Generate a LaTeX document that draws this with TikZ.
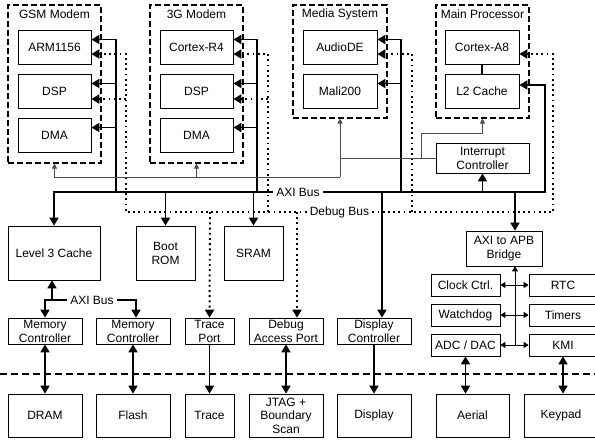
\documentclass[tikz,border=0pt]{standalone}
\usepackage{fontspec}
\setmainfont{Liberation Sans}
\usetikzlibrary{arrows.meta}

\begin{document}
\begin{tikzpicture}[x=1pt, y=-1pt, font=\fontsize{12}{14}\selectfont,
	blk/.style={draw, line width=0.7pt, inner sep=0pt, align=center},
	grp/.style={draw, line width=1.1pt, dash pattern=on 6pt off 3pt, inner sep=0pt},
	lbl/.style={inner sep=3pt},
	bus/.style={line width=1.7pt, >={Triangle[length=8pt,width=9pt]}},
	dbg/.style={line width=1.9pt, dash pattern=on 1.9pt off 3.3pt, >={Triangle[length=8pt,width=9pt]}},
	irq/.style={line width=0.8pt, black!70, >={Triangle[length=5pt,width=5pt]}},
	apb/.style={line width=0.8pt, >={Triangle[length=5pt,width=6pt]}},
	sep/.style={line width=1.2pt, dash pattern=on 7pt off 4pt}]
		\useasboundingbox (0,0) rectangle (595,440);

		% subsystems
		\node[grp, minimum width=93pt, minimum height=158pt] (gsm) at (54.5,84) {};
		\node (gsmt) at (54.5,14) {GSM Modem};
		\node[grp, minimum width=93pt, minimum height=158pt] (g3) at (196.5,84) {};
		\node (g3t) at (196.5,14) {3G Modem};
		\node[grp, minimum width=94pt, minimum height=113pt] (media) at (340,61.5) {};
		\node (mediat) at (340,14) {Media System};
		\node[grp, minimum width=93pt, minimum height=113pt] (mainp) at (482.5,61.5) {};
		\node (mainpt) at (482.5,14) {Main Processor};

		\node[blk, minimum width=73pt, minimum height=34pt] (arm) at (54.5,47) {ARM1156};
		\node[blk, minimum width=73pt, minimum height=34pt] (dspa) at (54.5,91) {DSP};
		\node[blk, minimum width=73pt, minimum height=34pt] (dmaa) at (54.5,135) {DMA};
		\node[blk, minimum width=73pt, minimum height=34pt] (cr4) at (196.5,47) {Cortex-R4};
		\node[blk, minimum width=73pt, minimum height=34pt] (dspb) at (196.5,91) {DSP};
		\node[blk, minimum width=73pt, minimum height=34pt] (dmab) at (196.5,135) {DMA};
		\node[blk, minimum width=74pt, minimum height=34pt] (adde) at (340,47) {AudioDE};
		\node[blk, minimum width=74pt, minimum height=34pt] (mali) at (340,91) {Mali200};
		\node[blk, minimum width=74pt, minimum height=34pt] (cxa) at (482,47) {Cortex-A8};
		\node[blk, minimum width=74pt, minimum height=34pt] (l2c) at (482,91) {L2 Cache};
		\draw[line width=1.2pt] (cxa) -- (l2c);

		\node[blk, minimum width=93pt, minimum height=30pt] (intc) at (482.5,158) {Interrupt\\Controller};

		% on the AXI bus
		\node[blk, minimum width=92pt, minimum height=54pt] (l3) at (54,253) {Level 3 Cache};
		\node[blk, minimum width=59pt, minimum height=54pt] (brom) at (165.5,253) {Boot\\ROM};
		\node[blk, minimum width=59pt, minimum height=54pt] (sram) at (253.5,253) {SRAM};
		\node[blk, minimum width=76pt, minimum height=35pt] (bridge) at (504,248.5) {AXI to APB\\Bridge};

		\node[blk, minimum width=69pt, minimum height=22pt] (clk) at (465.5,285) {Clock Ctrl.};
		\node[blk, minimum width=69pt, minimum height=22pt] (wdog) at (465.5,315) {Watchdog};
		\node[blk, minimum width=69pt, minimum height=22pt] (adc) at (465.5,345) {ADC / DAC};
		\node[blk, minimum width=68pt, minimum height=22pt] (rtc) at (563,285) {RTC};
		\node[blk, minimum width=68pt, minimum height=22pt] (tmr) at (563,315) {Timers};
		\node[blk, minimum width=68pt, minimum height=22pt] (kmi) at (563,345) {KMI};

		\node[blk, minimum width=74pt, minimum height=26pt] (mc1) at (45,331) {Memory\\Controller};
		\node[blk, minimum width=74pt, minimum height=26pt] (mc2) at (133,331) {Memory\\Controller};
		\node[blk, minimum width=49pt, minimum height=26pt] (tport) at (209.5,331) {Trace\\Port};
		\node[blk, minimum width=74pt, minimum height=26pt] (dap) at (286,331) {Debug\\Access Port};
		\node[blk, minimum width=74pt, minimum height=26pt] (dispc) at (374,331) {Display\\Controller};

		% off chip
		\node[blk, minimum width=74pt, minimum height=43pt] (dram) at (45,415.5) {DRAM};
		\node[blk, minimum width=74pt, minimum height=43pt] (flash) at (133,415.5) {Flash};
		\node[blk, minimum width=49pt, minimum height=43pt] (trace) at (209.5,415.5) {Trace};
		\node[blk, minimum width=74pt, minimum height=43pt, font=\fontsize{12}{13.5}\selectfont] (jtag) at (286,415.5) {JTAG +\\Boundary\\Scan};
		\node[blk, minimum width=74pt, minimum height=43pt] (disp) at (374,415.5) {Display};
		\node[blk, minimum width=73pt, minimum height=43pt] (aerial) at (472.5,415.5) {Aerial};
		\node[blk, minimum width=74pt, minimum height=43pt] (keypad) at (561,415.5) {Keypad};

		\node[lbl] (axilbl) at (298,192) {AXI Bus};
		\node[lbl] (dbglbl) at (339.5,212) {Debug Bus};
		\node[lbl] (axib) at (92,300) {AXI Bus};

		% AXI bus
		\draw[bus,->] (axilbl.west) -| (l3.north);
		\draw[bus,->] (axilbl.east) -| (545,85) -- ([yshift=6pt]l2c.east);
		\foreach \b in {arm,dspa,dmaa}
			\draw[bus,->] (116,192) |- ([yshift=7.5pt]\b.east);
		\foreach \b in {cr4,dspb,dmab}
			\draw[bus,->] (257,192) |- ([yshift=7.5pt]\b.east);
		\foreach \b in {adde,mali}
			\draw[bus,->] (401,192) |- ([yshift=7.5pt]\b.east);
		\draw[bus,->] (165.5,192) -- (brom.north);
		\draw[bus,->] (253.5,192) -- (sram.north);
		\draw[bus,->] (382,192) -- ([xshift=8pt]dispc.north);
		\draw[bus,->] (482.5,192) -- (intc.south);
		\draw[bus,->] (515,192) -- ([xshift=11pt]bridge.north);

		% debug bus
		\draw[dbg,->] (dbglbl.west) -- (126,212) |- ([yshift=-7pt]arm.east);
		\draw[dbg,->] (126,99) -- ([yshift=-8pt]dspa.east);
		\draw[dbg,->] (dbglbl.east) -| (553,54) -- ([yshift=-7pt]cxa.east);
		\draw[dbg,->] (268,212) |- ([yshift=-7pt]cr4.east);
		\draw[dbg,->] (268,99) -- ([yshift=-8pt]dspb.east);
		\draw[dbg,->] (412,212) |- ([yshift=-7pt]adde.east);
		\draw[dbg,->] (210,212) -- (tport.north);
		\draw[dbg,->] (297,212) -- ([xshift=11pt]dap.north);

		% interrupts
		\draw[irq] (intc.west) -- (340,158);
		\draw[irq,->] (340,177) -- (media.south);
		\draw[irq,->] (340,177) -| (gsm.south);
		\draw[irq,->] ([yshift=-14pt]g3.south) -- (g3.south);
		\draw[irq,->] (421,158) |- (482.5,133) -- (mainp.south);

		% APB
		\draw[apb,->] (515,345) -- ([xshift=11pt]bridge.south);
		\foreach \l/\r in {clk/rtc,wdog/tmr,adc/kmi}
			\draw[apb,<->] (\l.east) -- (\r.west);

		% second AXI bus
		\draw[bus,->] (52,300) -- ([xshift=-2pt]l3.south);
		\draw[bus,->] (axib.west) -| (mc1.north);
		\draw[bus,->] (axib.east) -| ([xshift=3pt]mc2.north);

		% chip edge
		\draw[sep] (0,374) -- (595,374);
		\draw[bus,<->] (mc1) -- (dram);
		\draw[bus,<->] (mc2) -- (flash);
		\draw[bus,->] (tport) -- (trace);
		\draw[bus,<->] (dap) -- (jtag);
		\draw[bus,->] (dispc) -- (disp);
		\draw[bus,<->] (adc.south) -- (adc.south |- aerial.north);
		\draw[bus,<->] (kmi.south) -- (kmi.south |- keypad.north);
	\end{tikzpicture}
\end{document}
